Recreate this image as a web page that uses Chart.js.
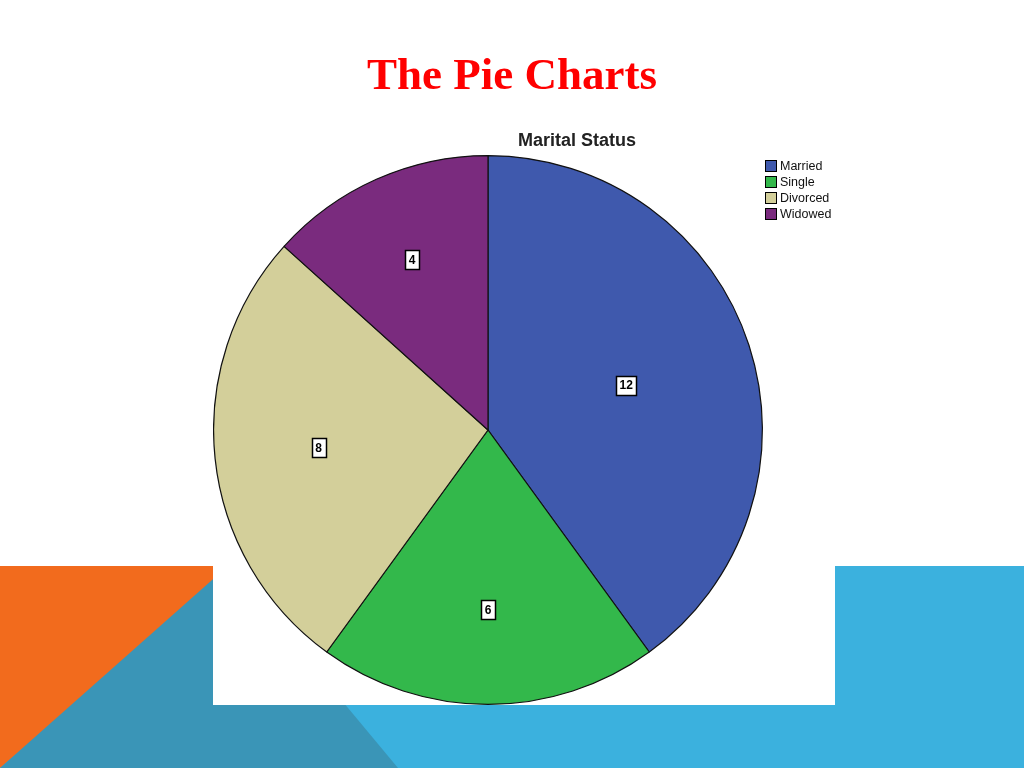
<!DOCTYPE html>
<html>
<head>
<meta charset="utf-8">
<script src="https://cdn.jsdelivr.net/npm/chart.js@4"></script>
<style>
  html, body { margin: 0; padding: 0; }
  body { width: 1024px; height: 768px; position: relative; overflow: hidden; background: #ffffff; }
  #bg { position: absolute; left: 0; top: 0; }
  #slideTitle { position: absolute; left: 0; top: 44px; width: 1024px; text-align: center;
    font-family: "Liberation Serif", "Times New Roman", serif; font-weight: bold; font-size: 45px; color: #ff0000; line-height: 60px; }
  #box { position: absolute; left: 213px; top: 120px; width: 622px; height: 585px; background: #ffffff; }
  #chartTitle { position: absolute; left: 213px; top: 130px; width: 728px; text-align: center;
    font-family: "Liberation Sans", Arial, sans-serif; font-weight: bold; font-size: 18px; color: #222; }
  #wrap { position: absolute; left: 213px; top: 120px; width: 622px; height: 585px; }
  #legend { position: absolute; left: 765px; top: 158px; font-family: "Liberation Sans", Arial, sans-serif; font-size: 12.5px; color: #111; }
  .li { height: 16px; line-height: 16px; display: flex; align-items: center; }
  .sw { width: 12px; height: 12px; border: 1px solid #000; margin-right: 3px; box-sizing: border-box; }
</style>
</head>
<body>
<canvas id="bg" width="1024" height="768"></canvas>
<div id="slideTitle">The Pie Charts</div>
<div id="box"></div>
<div id="wrap"><canvas id="c"></canvas></div>
<div id="chartTitle">Marital Status</div>
<div id="legend"></div>
<script>
const categories = ["Married", "Single", "Divorced", "Widowed"];
const counts = [12, 6, 8, 4];
const sliceColors = ["#3f59ad", "#33b84b", "#d3cf9a", "#7a2b7e"];

// slide background decoration
(function(){
  const g = document.getElementById('bg').getContext('2d');
  g.fillStyle = '#3bb1de'; g.fillRect(0, 566, 1024, 202);
  g.fillStyle = '#f26b1d';
  g.beginPath(); g.moveTo(0,566); g.lineTo(240,566); g.lineTo(0,768); g.closePath(); g.fill();
  g.fillStyle = '#3a95b7';
  g.beginPath(); g.moveTo(0,768); g.lineTo(229,565); g.lineTo(398,768); g.closePath(); g.fill();
})();

// legend
const lg = document.getElementById('legend');
categories.forEach((c, i) => {
  const d = document.createElement('div'); d.className = 'li';
  d.innerHTML = '<span class="sw" style="background:' + sliceColors[i] + '"></span>' + c;
  lg.appendChild(d);
});

// value labels placed near each slice's centroid
const labelPlugin = {
  id: 'boxLabels',
  afterDatasetsDraw(chart) {
    const ctx = chart.ctx;
    const meta = chart.getDatasetMeta(0);
    ctx.save();
    ctx.font = 'bold 12px "Liberation Sans", Arial, sans-serif';
    ctx.textAlign = 'center'; ctx.textBaseline = 'middle';
    meta.data.forEach((arc, i) => {
      const p = arc.getProps(['x','y','startAngle','endAngle','outerRadius'], true);
      const th = p.endAngle - p.startAngle;
      const mid = (p.startAngle + p.endAngle) / 2;
      const r = p.outerRadius * 1.05 * (4 * Math.sin(th / 2)) / (3 * th);
      const x = p.x + Math.cos(mid) * r, y = p.y + Math.sin(mid) * r;
      const txt = String(chart.data.datasets[0].data[i]);
      const w = Math.round(ctx.measureText(txt).width + 7), h = 19;
      const bx = Math.round(x - w/2) + 0.5, by = Math.round(y - h/2) + 0.5;
      ctx.fillStyle = '#fff'; ctx.fillRect(bx, by, w, h);
      ctx.strokeStyle = '#000'; ctx.lineWidth = 1.5; ctx.strokeRect(bx, by, w, h);
      ctx.fillStyle = '#000'; ctx.fillText(txt, x, y + 1);
    });
    ctx.restore();
  }
};

new Chart(document.getElementById('c'), {
  type: 'pie',
  data: {
    labels: categories,
    datasets: [{ data: counts, backgroundColor: sliceColors, borderColor: '#111', borderWidth: 1.2 }]
  },
  options: {
    responsive: true, maintainAspectRatio: false, animation: false,
    layout: { padding: { left: 0, top: 35, right: 72, bottom: 0 } },
    plugins: { legend: { display: false }, title: { display: false }, tooltip: { enabled: false } }
  },
  plugins: [labelPlugin]
});
</script>
</body>
</html>
